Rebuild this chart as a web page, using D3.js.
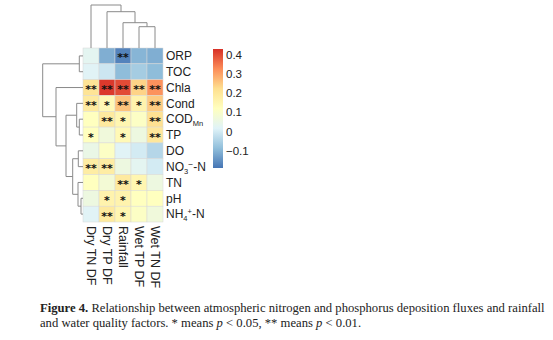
<!DOCTYPE html>
<html><head><meta charset="utf-8">
<script src="https://cdn.jsdelivr.net/npm/d3@7"></script>
<style>body{margin:0;background:#fff}svg{display:block}</style>
</head><body>
<svg id="c" width="553" height="340"></svg>
<script>
// ---- data ----
const columns = ["Dry TN DF","Dry TP DF","Rainfall","Wet TP DF","Wet TN DF"];
const rows = ["ORP","TOC","Chla","Cond","COD","TP","DO","NO3","TN","pH","NH4"];
const values = [
  [ 0.03,-0.11,-0.17,-0.10,-0.11],
  [ 0.02,-0.01,-0.09,-0.06,-0.09],
  [ 0.21, 0.42, 0.40, 0.24, 0.32],
  [ 0.19, 0.14, 0.26, 0.16, 0.25],
  [ 0.12, 0.19, 0.15, 0.11, 0.22],
  [ 0.12, 0.07, 0.14, 0.06, 0.20],
  [ 0.05, 0.11, 0.02, 0.00,-0.04],
  [ 0.18, 0.18, 0.06, 0.03, 0.00],
  [ 0.12, 0.08, 0.19, 0.15, 0.06],
  [ 0.06, 0.16, 0.16, 0.12, 0.12],
  [ 0.02, 0.19, 0.15, 0.11, 0.07]
];
const signif = [
  ["","","**","",""],
  ["","","","",""],
  ["**","**","**","**","**"],
  ["**","*","**","*","**"],
  ["","**","*","","**"],
  ["*","","*","","**"],
  ["","","","",""],
  ["**","**","","",""],
  ["","","**","*",""],
  ["","*","*","",""],
  ["","**","*","",""]
];
const legendTicks = [0.4,0.3,0.2,0.1,0,-0.1];
const legendRange = [-0.19,0.43];
// dendrograms: nested merges with heights
const rowTree = {h:40.3,c:[{h:3.7,c:["ORP","TOC"]},{h:27,c:["Chla",{h:17,c:[{h:6.3,c:["Cond",{h:3.7,c:["COD","TP"]}]},{h:10.3,c:[{h:4.7,c:["DO","NO3"]},{h:5,c:["TN",{h:2,c:["pH","NH4"]}]}]}]}]}]};
const colTree = {h:43,c:["Dry TN DF",{h:36.3,c:["Dry TP DF",{h:25.3,c:["Rainfall",{h:21.3,c:["Wet TP DF","Wet TN DF"]}]}]}]};
const palette = ["#4575B4","#91BFDB","#E0F3F8","#FFFFBF","#FEE090","#FC8D59","#D73027"];

// ---- layout ----
const svg = d3.select("#c");
const hm = {x0:83, x1:163, y0:48, y1:222};
const x = d3.scaleBand().domain(columns).range([hm.x0,hm.x1]);
const y = d3.scaleBand().domain(rows).range([hm.y0,hm.y1]);
const color = d3.scaleLinear()
  .domain(d3.range(palette.length).map(i=>legendRange[0]+i*(legendRange[1]-legendRange[0])/(palette.length-1)))
  .range(palette).interpolate(d3.interpolateRgb);

// cells
const g = svg.append("g");
rows.forEach((r,i)=>columns.forEach((c,j)=>{
  g.append("rect").attr("x",x(c)).attr("y",y(r)).attr("width",x.bandwidth()).attr("height",y.bandwidth())
   .attr("fill",color(values[i][j])).attr("stroke","#d8d8d8").attr("stroke-width",0.5);
  if(signif[i][j]) g.append("text").attr("x",x(c)+x.bandwidth()/2).attr("y",y(r)+y.bandwidth()/2+5.5)
   .attr("text-anchor","middle").attr("font-family","DejaVu Sans").attr("font-size",11).attr("font-weight","bold")
   .attr("fill","#111").text(signif[i][j]);
}));

// dendrogram helper
function drawTree(tree, posScale, hScale, orient){
  const lines = [];
  function walk(n){
    if(typeof n==="string") return {p:posScale(n)+posScale.bandwidth()/2, h:0};
    const a = walk(n.c[0]), b = walk(n.c[1]);
    lines.push([a,b,n.h]);
    return {p:(a.p+b.p)/2, h:n.h};
  }
  walk(tree);
  const path = d3.path();
  lines.forEach(([a,b,h])=>{
    if(orient==="top"){
      path.moveTo(a.p,hScale(a.h)); path.lineTo(a.p,hScale(h)); path.lineTo(b.p,hScale(h)); path.lineTo(b.p,hScale(b.h));
    } else {
      path.moveTo(hScale(a.h),a.p); path.lineTo(hScale(h),a.p); path.lineTo(hScale(h),b.p); path.lineTo(hScale(b.h),b.p);
    }
  });
  svg.append("path").attr("d",path.toString()).attr("fill","none").attr("stroke","#8a8a8a").attr("stroke-width",1);
}
drawTree(colTree, x, d3.scaleLinear().domain([0,colTree.h]).range([hm.y0,5]), "top");
drawTree(rowTree, y, d3.scaleLinear().domain([0,rowTree.h]).range([hm.x0,42.7]), "left");

// row labels
const lab = svg.append("g").attr("font-family","Liberation Sans, Arial, sans-serif").attr("font-size",12).attr("fill","#222");
rows.forEach(r=>{
  const t = lab.append("text").attr("x",hm.x1+3).attr("y",y(r)+y.bandwidth()/2+4.3);
  if(r==="COD"){ t.append("tspan").text("COD"); t.append("tspan").attr("font-size",7.5).attr("dy",3).text("Mn"); }
  else if(r==="NO3"){ t.append("tspan").text("NO"); t.append("tspan").attr("font-size",7.5).attr("dy",3).text("3");
    t.append("tspan").attr("font-size",8.5).attr("dy",-6.5).text("\u2212"); t.append("tspan").attr("dy",3.5).text("-N"); }
  else if(r==="NH4"){ t.append("tspan").text("NH"); t.append("tspan").attr("font-size",7.5).attr("dy",3).text("4");
    t.append("tspan").attr("font-size",7.5).attr("dy",-7).text("+"); t.append("tspan").attr("dy",4).text("-N"); }
  else t.text(r);
});
// column labels
columns.forEach(c=>{
  const cx = x(c)+x.bandwidth()/2;
  lab.append("text").attr("transform",`translate(${cx-4.3},${hm.y1+4}) rotate(90)`).attr("font-size",12.5).text(c);
});

// legend
const lg = {x:213, w:10, y0:49, y1:168};
const ly = d3.scaleLinear().domain(legendRange).range([lg.y1,lg.y0]);
const defs = svg.append("defs");
const grad = defs.append("linearGradient").attr("id","lgd").attr("x1",0).attr("y1",1).attr("x2",0).attr("y2",0);
palette.forEach((p,i)=>grad.append("stop").attr("offset",i/(palette.length-1)).attr("stop-color",p));
svg.append("rect").attr("x",lg.x).attr("y",lg.y0).attr("width",lg.w).attr("height",lg.y1-lg.y0).attr("fill","url(#lgd)");
const ax = svg.append("g").attr("font-family","Liberation Sans, Arial, sans-serif").attr("font-size",11.5).attr("fill","#222");
legendTicks.forEach(v=>ax.append("text").attr("x",lg.x+lg.w+3).attr("y",ly(v)+4).text(d3.format("")(v).replace("-","\u2212")));

// caption
const cap = svg.append("g").attr("font-family","Liberation Serif, DejaVu Serif, serif").attr("font-size",11).attr("fill","#222");
const l1 = cap.append("text").attr("x",40).attr("y",312);
l1.append("tspan").attr("font-weight","bold").text("Figure 4.");
l1.append("tspan").text(" Relationship between atmospheric nitrogen and phosphorus deposition fluxes and rainfall");
const l2 = cap.append("text").attr("x",40).attr("y",327);
l2.append("tspan").text("and water quality factors. * means ");
l2.append("tspan").attr("font-style","italic").text("p");
l2.append("tspan").text(" < 0.05, ** means ");
l2.append("tspan").attr("font-style","italic").text("p");
l2.append("tspan").text(" < 0.01.");
// fit line 1 to reference width
const w1 = l1.node().getComputedTextLength();
const fs = 11*505/w1;
cap.attr("font-size",fs);
</script>
</body></html>
